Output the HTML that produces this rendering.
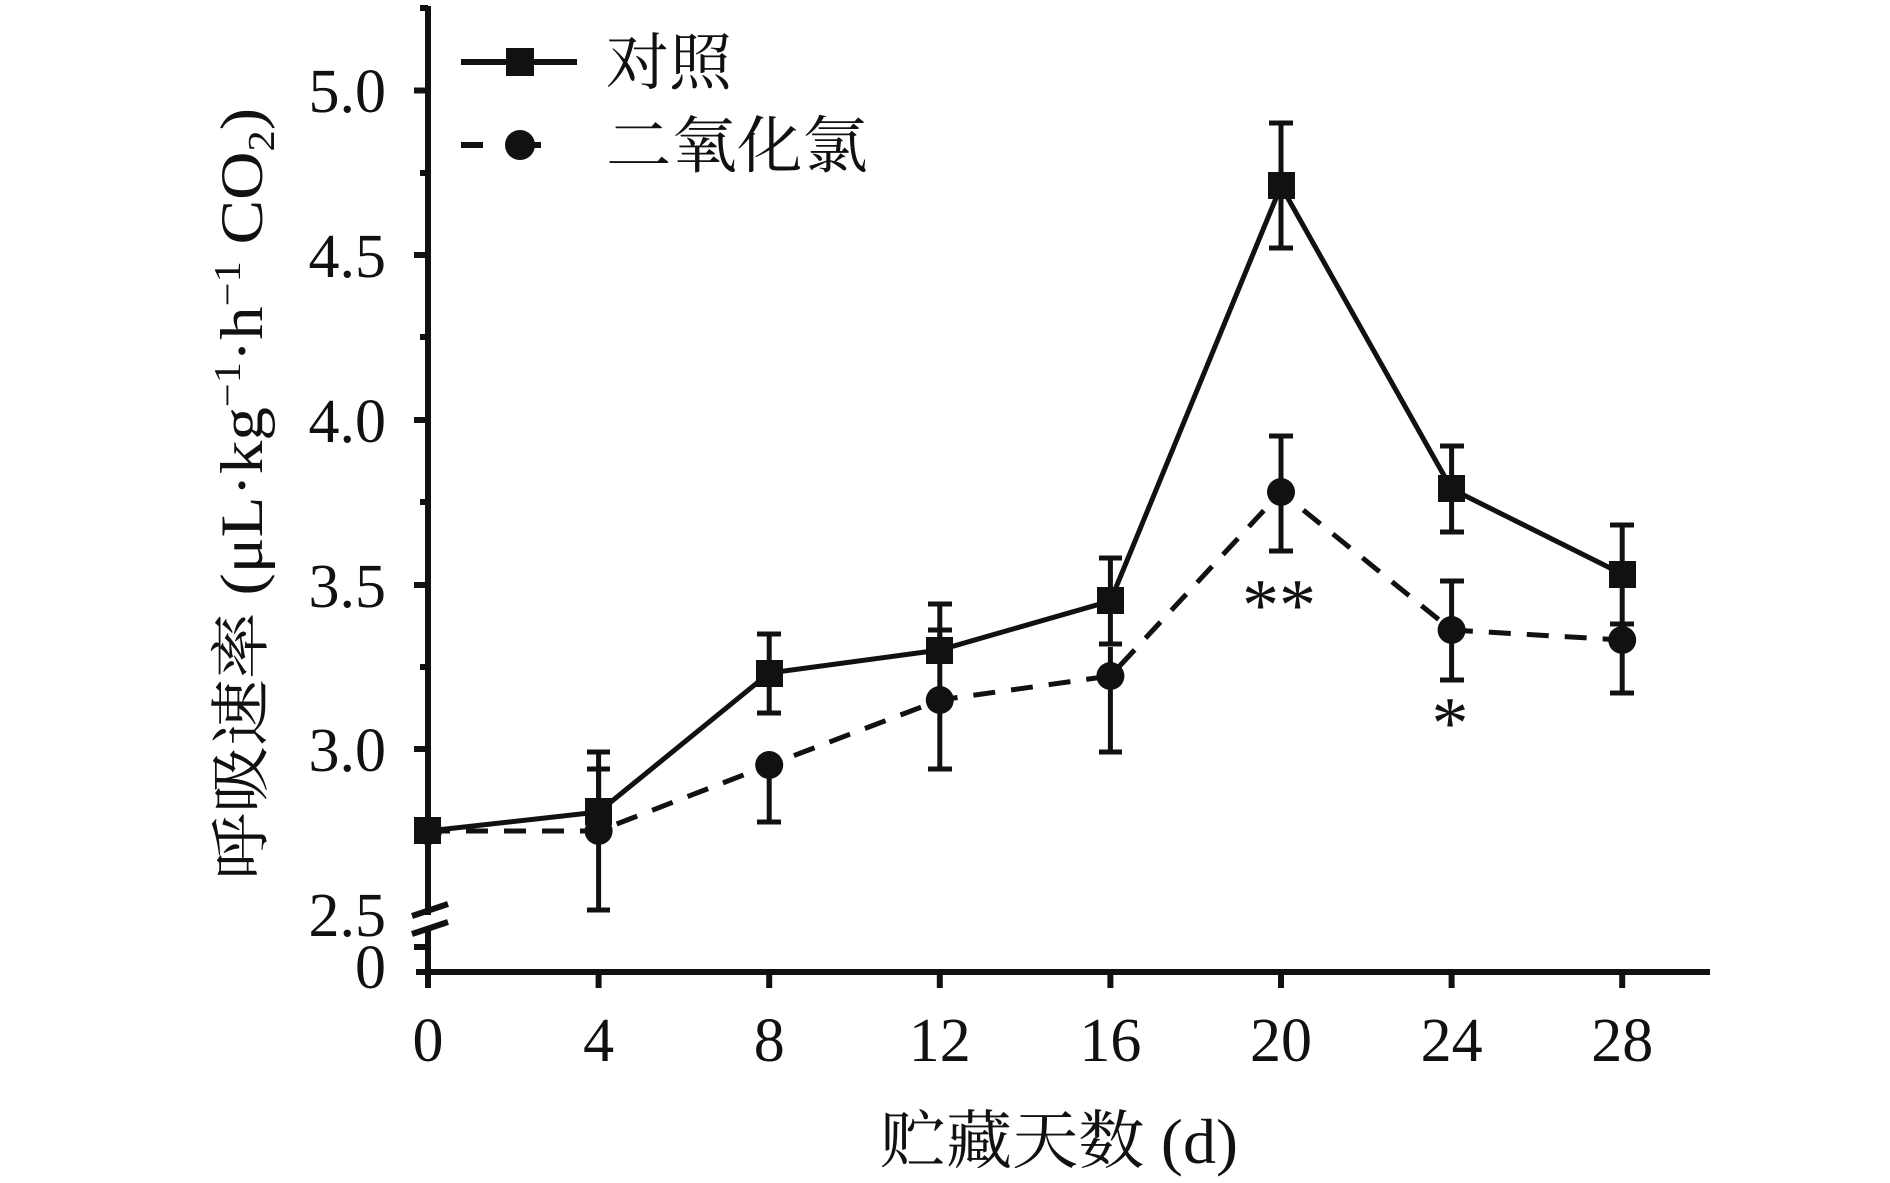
<!DOCTYPE html>
<html><head><meta charset="utf-8"><style>
html,body{margin:0;padding:0;background:#fff;}
svg{display:block;}
text{font-family:"Liberation Serif","Noto Serif CJK SC",serif;fill:#111;}
</style></head><body>
<svg width="1890" height="1183" viewBox="0 0 1890 1183" xmlns="http://www.w3.org/2000/svg">
<g stroke="#111" stroke-width="6" fill="none">
<line x1="428" y1="6" x2="428" y2="985"/>
<line x1="416" y1="972" x2="1710" y2="972"/>
</g>
<rect x="410" y="915" width="40" height="16" fill="#fff"/>
<g stroke="#111" stroke-width="6">
<line x1="412" y1="916" x2="448" y2="904"/>
<line x1="412" y1="934" x2="448" y2="922"/>
<line x1="414" y1="90.5" x2="428" y2="90.5"/>
<line x1="414" y1="255" x2="428" y2="255"/>
<line x1="414" y1="420" x2="428" y2="420"/>
<line x1="414" y1="585" x2="428" y2="585"/>
<line x1="414" y1="749" x2="428" y2="749"/>
<line x1="414" y1="947" x2="428" y2="947"/>
<line x1="420" y1="8" x2="428" y2="8"/>
<line x1="420" y1="173" x2="428" y2="173"/>
<line x1="420" y1="337" x2="428" y2="337"/>
<line x1="420" y1="502" x2="428" y2="502"/>
<line x1="420" y1="667" x2="428" y2="667"/>
<line x1="428" y1="972" x2="428" y2="988"/>
<line x1="598.6" y1="972" x2="598.6" y2="988"/>
<line x1="769.2" y1="972" x2="769.2" y2="988"/>
<line x1="939.8" y1="972" x2="939.8" y2="988"/>
<line x1="1110.4" y1="972" x2="1110.4" y2="988"/>
<line x1="1281" y1="972" x2="1281" y2="988"/>
<line x1="1451.6" y1="972" x2="1451.6" y2="988"/>
<line x1="1622.2" y1="972" x2="1622.2" y2="988"/>
</g>
<g font-size="62" text-anchor="end">
<text x="386" y="112">5.0</text>
<text x="386" y="277">4.5</text>
<text x="386" y="442">4.0</text>
<text x="386" y="607">3.5</text>
<text x="386" y="771">3.0</text>
<text x="386" y="936">2.5</text>
<text x="386" y="988">0</text>
</g>
<g font-size="62" text-anchor="middle">
<text x="428" y="1061">0</text>
<text x="598.6" y="1061">4</text>
<text x="769.2" y="1061">8</text>
<text x="939.8" y="1061">12</text>
<text x="1110.4" y="1061">16</text>
<text x="1281" y="1061">20</text>
<text x="1451.6" y="1061">24</text>
<text x="1622.2" y="1061">28</text>
</g>
<text x="880" y="1163" font-size="64" textLength="358" lengthAdjust="spacingAndGlyphs">贮藏天数 (d)</text>
<text transform="translate(262,880) rotate(-90)" font-size="60" textLength="772" lengthAdjust="spacingAndGlyphs">呼吸速率 (μL·kg<tspan font-size="38" dy="-22">−1</tspan><tspan dy="22">·h</tspan><tspan font-size="38" dy="-22">−1</tspan><tspan dy="22"> CO</tspan><tspan font-size="38" dy="12">2</tspan><tspan dy="-12">)</tspan></text>
<g stroke="#111" stroke-width="5">
<line x1="598.6" y1="752" x2="598.6" y2="811"/><line x1="587" y1="752" x2="610" y2="752"/>
<line x1="769.2" y1="634" x2="769.2" y2="713"/><line x1="757" y1="634" x2="781" y2="634"/><line x1="757" y1="713" x2="781" y2="713"/>
<line x1="939.8" y1="604" x2="939.8" y2="650"/><line x1="928" y1="604" x2="952" y2="604"/><line x1="928" y1="630" x2="952" y2="630"/>
<line x1="1110.4" y1="558" x2="1110.4" y2="644"/><line x1="1099" y1="558" x2="1122" y2="558"/><line x1="1099" y1="644" x2="1122" y2="644"/>
<line x1="1281" y1="123" x2="1281" y2="248"/><line x1="1269" y1="123" x2="1293" y2="123"/><line x1="1269" y1="248" x2="1293" y2="248"/>
<line x1="1451.6" y1="446" x2="1451.6" y2="532"/><line x1="1440" y1="446" x2="1464" y2="446"/><line x1="1440" y1="532" x2="1464" y2="532"/>
<line x1="1622.2" y1="525" x2="1622.2" y2="624"/><line x1="1610" y1="525" x2="1634" y2="525"/><line x1="1610" y1="624" x2="1634" y2="624"/>
<line x1="598.6" y1="769" x2="598.6" y2="910"/><line x1="587" y1="769" x2="610" y2="769"/><line x1="587" y1="910" x2="610" y2="910"/>
<line x1="769.2" y1="765" x2="769.2" y2="822"/><line x1="757" y1="822" x2="781" y2="822"/>
<line x1="939.8" y1="634" x2="939.8" y2="769"/><line x1="928" y1="769" x2="952" y2="769"/>
<line x1="1110.4" y1="647" x2="1110.4" y2="752"/><line x1="1099" y1="752" x2="1122" y2="752"/>
<line x1="1281" y1="436" x2="1281" y2="551"/><line x1="1269" y1="436" x2="1293" y2="436"/><line x1="1269" y1="551" x2="1293" y2="551"/>
<line x1="1451.6" y1="581" x2="1451.6" y2="680"/><line x1="1440" y1="581" x2="1464" y2="581"/><line x1="1440" y1="680" x2="1464" y2="680"/>
<line x1="1622.2" y1="624" x2="1622.2" y2="693"/><line x1="1610" y1="693" x2="1634" y2="693"/>
</g>
<polyline fill="none" stroke="#111" stroke-width="5" points="428,831 598.6,812 769.2,673 939.8,650 1110.4,601 1281,186 1451.6,489 1622.2,574"/>
<polyline fill="none" stroke="#111" stroke-width="5" stroke-dasharray="22,16" points="428,831 598.6,831 769.2,765 939.8,700 1110.4,676 1281,492 1451.6,630 1622.2,640"/>
<g fill="#111">
<rect x="414" y="817" width="27" height="27"/>
<rect x="585" y="798" width="27" height="27"/>
<rect x="756" y="660" width="27" height="27"/>
<rect x="926" y="637" width="27" height="27"/>
<rect x="1097" y="587" width="27" height="27"/>
<rect x="1268" y="172" width="27" height="27"/>
<rect x="1438" y="475" width="27" height="27"/>
<rect x="1609" y="561" width="27" height="27"/>
<circle cx="428" cy="831" r="14"/>
<circle cx="598.6" cy="831" r="14"/>
<circle cx="769.2" cy="765" r="14"/>
<circle cx="939.8" cy="700" r="14"/>
<circle cx="1110.4" cy="676" r="14"/>
<circle cx="1281" cy="492" r="14"/>
<circle cx="1451.6" cy="630" r="14"/>
<circle cx="1622.2" cy="640" r="14"/>
</g>
<g font-size="74" text-anchor="middle">
<text x="1279" y="630">**</text>
<text x="1450" y="748">*</text>
</g>
<line x1="461" y1="62" x2="577" y2="62" stroke="#111" stroke-width="6"/>
<rect x="506" y="48" width="28" height="28" fill="#111"/>
<line x1="461" y1="145" x2="577" y2="145" stroke="#111" stroke-width="6" stroke-dasharray="22,36"/>
<circle cx="520" cy="145" r="15" fill="#111"/>
<text x="606" y="84" font-size="62" textLength="126" lengthAdjust="spacingAndGlyphs">对照</text>
<text x="606" y="167" font-size="62" textLength="262" lengthAdjust="spacingAndGlyphs">二氧化氯</text>
</svg>
</body></html>
